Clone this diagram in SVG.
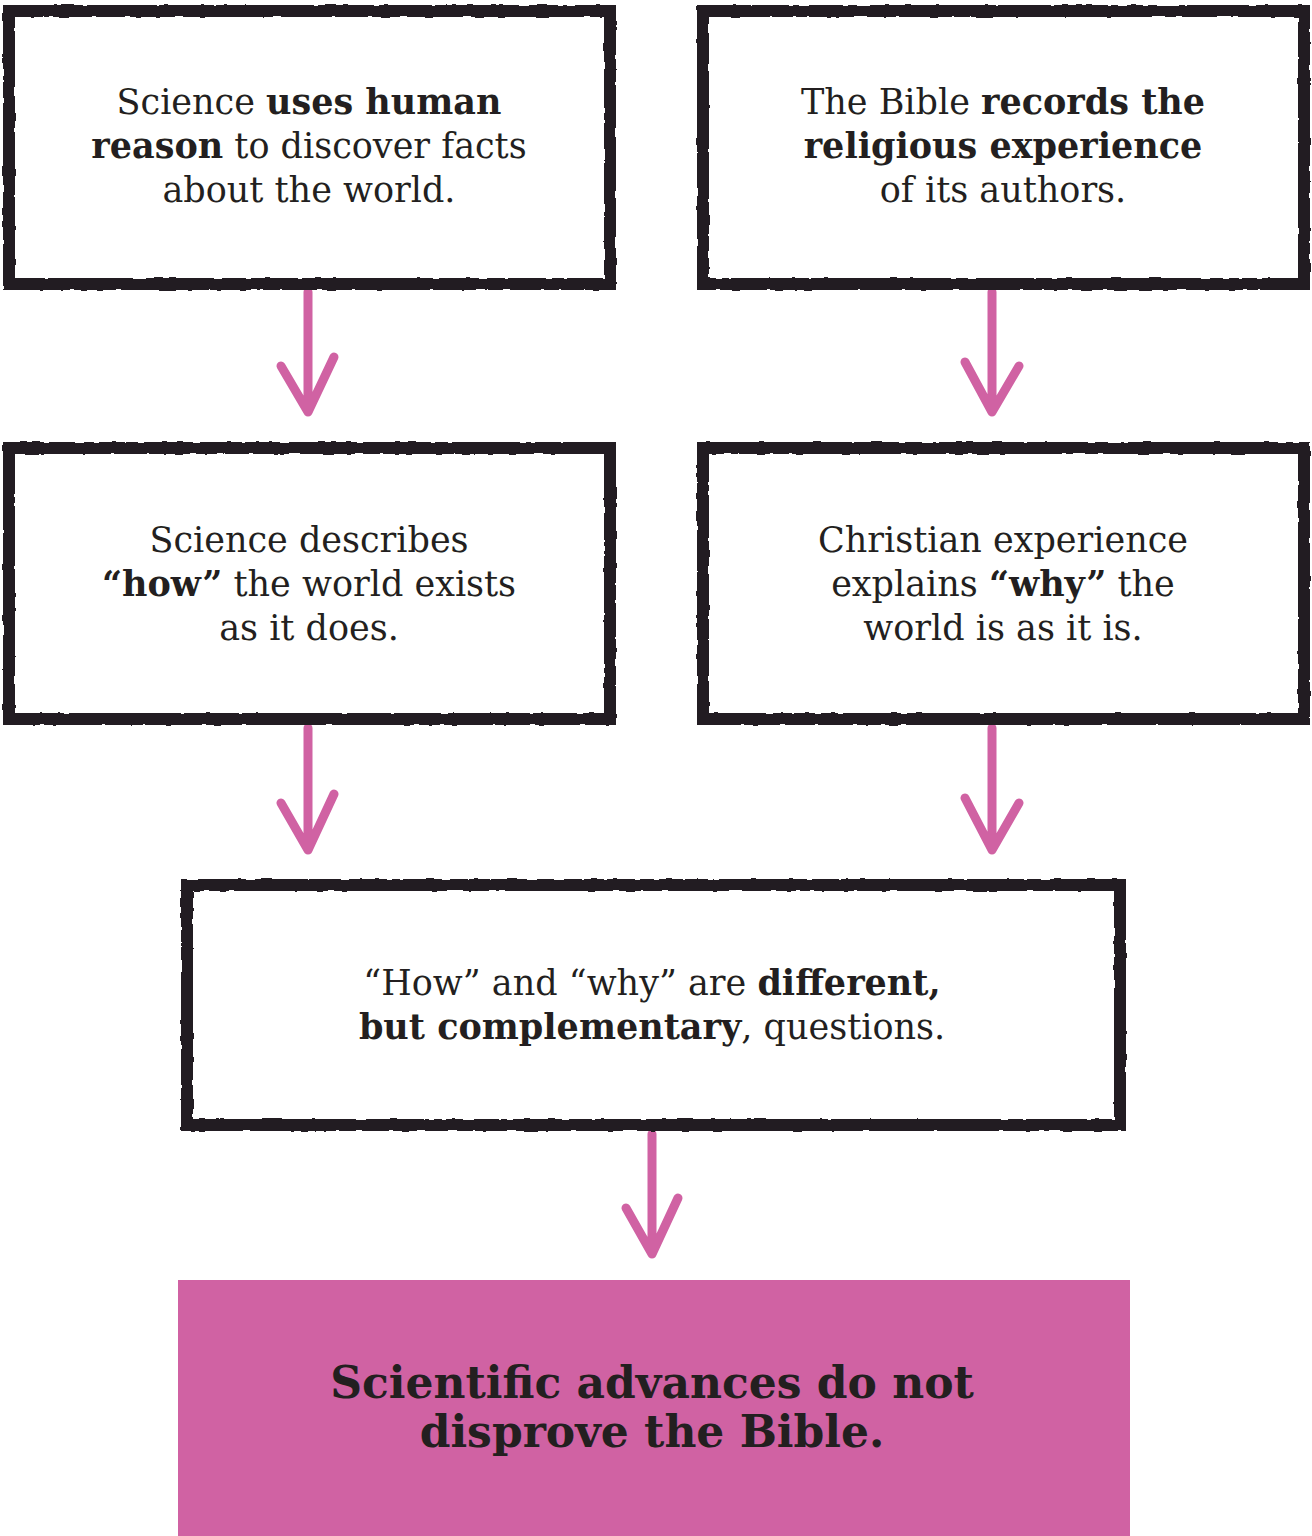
<svg xmlns="http://www.w3.org/2000/svg" width="1312" height="1536" viewBox="0 0 1312 1536">
<defs>
<style>
.box{fill:#fff;stroke:#231f20;stroke-width:12;}
.arr{fill:none;stroke:#d062a3;stroke-width:9;stroke-linecap:round;stroke-linejoin:round;}
.t{font-family:"DejaVu Serif","Liberation Serif",serif;font-size:35px;fill:#231f20;text-anchor:middle;font-weight:300;}
.b{font-weight:bold;}
.fin{font-family:"DejaVu Serif","Liberation Serif",serif;font-size:44px;font-weight:bold;fill:#231f20;text-anchor:middle;}
</style>
<filter id="rough" x="-5%" y="-5%" width="110%" height="110%">
<feTurbulence type="fractalNoise" baseFrequency="0.08" numOctaves="2" seed="3"/>
<feDisplacementMap in="SourceGraphic" scale="3"/>
</filter>
</defs>
<rect width="1312" height="1536" fill="#fff"/>
<g id="connectors">
<path class="arr" d="M308 292 V412 M281 366 L308 412 L334 357"/>
<path class="arr" d="M992 292 V412 M965 362 L992 412 L1019 366"/>
<path class="arr" d="M308 728 V850 M281 803 L308 850 L334 794"/>
<path class="arr" d="M992 728 V850 M965 798 L992 850 L1019 803"/>
<path class="arr" d="M652 1134 V1254 M626 1208 L652 1254 L678 1198"/>
</g>
<g id="n1">
<rect class="box" x="9" y="11" width="601" height="273" filter="url(#rough)"/>
<text class="t" x="309" y="114">Science <tspan class="b">uses human</tspan></text>
<text class="t" x="309" y="158"><tspan class="b">reason</tspan> to discover facts</text>
<text class="t" x="309" y="202">about the world.</text>
</g>
<g id="n2">
<rect class="box" x="703" y="11" width="601" height="273" filter="url(#rough)"/>
<text class="t" x="1003" y="114">The Bible <tspan class="b">records the</tspan></text>
<text class="t" x="1003" y="158"><tspan class="b">religious experience</tspan></text>
<text class="t" x="1003" y="202">of its authors.</text>
</g>
<g id="n3">
<rect class="box" x="9" y="448" width="601" height="271" filter="url(#rough)"/>
<text class="t" x="309" y="552">Science describes</text>
<text class="t" x="309" y="596"><tspan class="b">“how”</tspan> the world exists</text>
<text class="t" x="309" y="640">as it does.</text>
</g>
<g id="n4">
<rect class="box" x="703" y="448" width="601" height="271" filter="url(#rough)"/>
<text class="t" x="1003" y="552">Christian experience</text>
<text class="t" x="1003" y="596">explains <tspan class="b">“why”</tspan> the</text>
<text class="t" x="1003" y="640">world is as it is.</text>
</g>
<g id="n5">
<rect class="box" x="187" y="885" width="933" height="240" filter="url(#rough)"/>
<text class="t" x="652" y="995">“How” and “why” are <tspan class="b">different,</tspan></text>
<text class="t" x="652" y="1039"><tspan class="b">but complementary</tspan>, questions.</text>
</g>
<g id="n6">
<rect x="178" y="1280" width="952" height="256" fill="#d062a3"/>
<text class="fin" x="652" y="1398">Scientific advances do not</text>
<text class="fin" x="652" y="1447">disprove the Bible.</text>
</g>
</svg>
